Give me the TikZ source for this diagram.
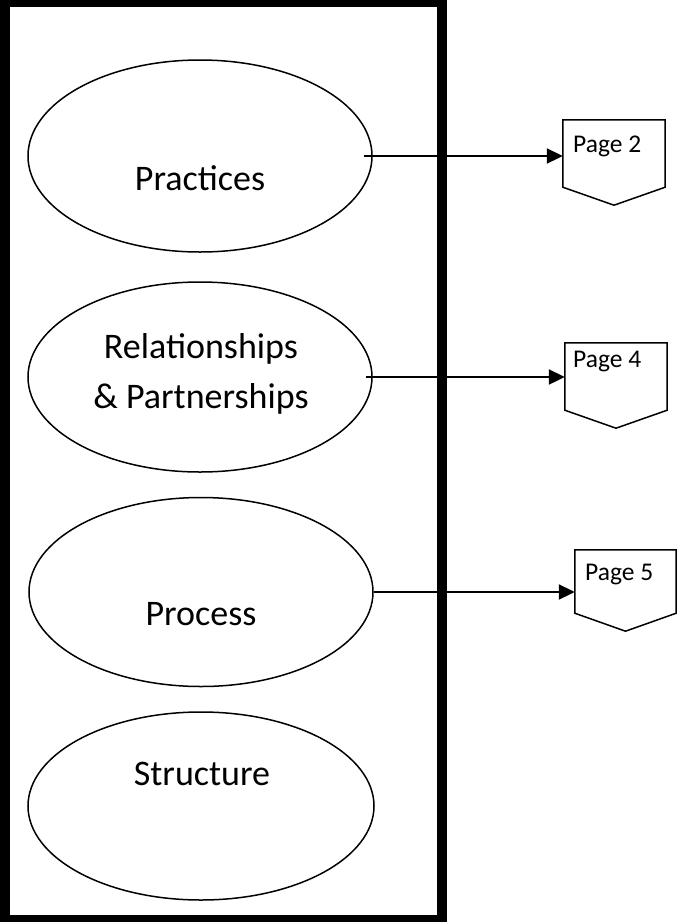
\documentclass[tikz,border=0pt]{standalone}
\usepackage{fontspec}
\setmainfont{Carlito}
\usepackage{tikz}
\usetikzlibrary{calc,shapes.geometric,arrows.meta}

\begin{document}
\begin{tikzpicture}[x=1pt,y=-1pt,
  oval/.style={draw,ellipse,line width=1.5pt,inner sep=0pt,minimum width=344pt},
  ovaltxt/.style={font=\fontsize{36}{50}\selectfont,align=center,inner sep=0pt},
  pagebox/.style={inner sep=0pt,minimum width=102pt},
  pagetxt/.style={font=\fontsize{25.5}{30}\selectfont,inner sep=0pt},
  link/.style={line width=2pt,-{Triangle[length=16pt,width=15pt]}}]
  \useasboundingbox (0,0) rectangle (677,922);
  \draw[line width=10.5pt] (5,2) rectangle (442,920);
  \node[oval,minimum height=192pt] (e1) at (200,156) {};
  \node[oval,minimum height=190pt] (e2) at (200,377) {};
  \node[oval,minimum height=189pt] (e3) at (201,592) {};
  \node[oval,minimum height=188pt,minimum width=346pt] (e4) at (201,806) {};
  \node[ovaltxt,anchor=base] (t1) at (200,190) {Practices};
  \node[ovaltxt,anchor=base] (t2) at (201,408) {Relationships\\\& Partnerships};
  \node[ovaltxt,anchor=base] (t3) at (201,625) {Process};
  \node[ovaltxt,anchor=base] (t4) at (202,785) {Structure};
  \node[pagebox,minimum height=67pt] (p2) at (614,153.5) {};
  \node[pagebox,minimum height=67pt] (p4) at (616,376.5) {};
  \node[pagebox,minimum height=63pt,minimum width=101pt] (p5) at (625.5,581.5) {};
  \foreach \pg in {p2,p4,p5}{
    \draw[line width=1.5pt,line join=miter] (\pg.north west) -- (\pg.north east) -- (\pg.south east)
      -- ($(\pg.south)+(0,18)$) -- (\pg.south west) -- cycle;}
  \node[pagetxt,anchor=base west] (n2) at (573,152) {Page 2};
  \node[pagetxt,anchor=base west] (n4) at (573,367) {Page 4};
  \node[pagetxt,anchor=base west] (n5) at (585,580) {Page 5};
  \draw[link] ([xshift=-9pt]e1.east) -- (e1.east -| p2.west);
  \draw[link] ([xshift=-7pt]e2.east) -- (e2.east -| p4.west);
  \draw[link] (e3.east) -- (e3.east -| p5.west);
\end{tikzpicture}
\end{document}
